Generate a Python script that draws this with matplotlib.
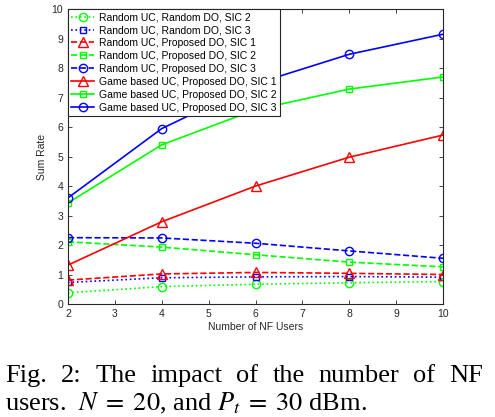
import matplotlib.pyplot as plt

# number of NF users
nf_users = [2, 4, 6, 8, 10]

# sum rate of each scheme
rand_rand_sic2 = [0.38, 0.59, 0.67, 0.72, 0.76]
rand_rand_sic3 = [0.73, 0.89, 0.92, 0.93, 0.91]
rand_prop_sic1 = [0.81, 1.02, 1.07, 1.04, 1.00]
rand_prop_sic2 = [2.11, 1.93, 1.67, 1.42, 1.26]
rand_prop_sic3 = [2.25, 2.24, 2.06, 1.80, 1.55]
game_prop_sic1 = [1.32, 2.79, 4.00, 4.98, 5.73]
game_prop_sic2 = [3.43, 5.40, 6.59, 7.29, 7.70]
game_prop_sic3 = [3.60, 5.95, 7.47, 8.47, 9.15]

labels = ['Random UC, Random DO, SIC 2',
          'Random UC, Random DO, SIC 3',
          'Random UC, Proposed DO, SIC 1',
          'Random UC, Proposed DO, SIC 2',
          'Random UC, Proposed DO, SIC 3',
          'Game based UC, Proposed DO, SIC 1',
          'Game based UC, Proposed DO, SIC 2',
          'Game based UC, Proposed DO, SIC 3']

plt.rcParams['font.family'] = ['Liberation Sans', 'DejaVu Sans']
plt.rcParams['mathtext.fontset'] = 'stix'

fig = plt.figure(figsize=(4.95, 4.17), dpi=100)
ax = fig.add_axes([0.1374, 0.271, 0.7576, 0.707])

lw = 1.2
ms = 6
ax.plot(nf_users, rand_rand_sic2, ':', color='#00ff00', marker='o', mfc='none', lw=lw, ms=ms, label=labels[0])
ax.plot(nf_users, rand_rand_sic3, ':', color='#0000ff', marker='s', mfc='none', lw=lw, ms=ms - 1, label=labels[1])
ax.plot(nf_users, rand_prop_sic1, '--', color='#ff0000', marker='^', mfc='none', lw=lw, ms=ms + 1, label=labels[2])
ax.plot(nf_users, rand_prop_sic2, '--', color='#00ff00', marker='s', mfc='none', lw=lw, ms=ms - 1, label=labels[3])
ax.plot(nf_users, rand_prop_sic3, '--', color='#0000ff', marker='o', mfc='none', lw=lw, ms=ms, label=labels[4])
ax.plot(nf_users, game_prop_sic1, '-', color='#ff0000', marker='^', mfc='none', lw=lw, ms=ms + 1, label=labels[5])
ax.plot(nf_users, game_prop_sic2, '-', color='#00ff00', marker='s', mfc='none', lw=lw, ms=ms - 1, label=labels[6])
ax.plot(nf_users, game_prop_sic3, '-', color='#0000ff', marker='o', mfc='none', lw=lw, ms=ms, label=labels[7])

ax.set_xlim(2, 10)
ax.set_ylim(0, 10)
ax.set_xticks(range(2, 11))
ax.set_yticks(range(0, 11))
ax.tick_params(direction='in', top=True, right=True, labelsize=7.5, colors='#262626', length=3, width=0.6)
for s in ax.spines.values():
    s.set_color('#262626')
    s.set_linewidth(0.8)

ax.set_xlabel('Number of NF Users', fontsize=7.5, color='#262626', labelpad=2)
ax.set_ylabel('Sum Rate', fontsize=7.5, color='#262626', labelpad=3)

leg = ax.legend(loc='upper left', bbox_to_anchor=(0, 1), borderaxespad=0, fontsize=7.5,
                fancybox=False, edgecolor='#262626', framealpha=1, handlelength=2.2,
                handletextpad=0.5, labelspacing=0.28, borderpad=0.3)
leg.get_frame().set_linewidth(0.8)

# caption below the chart, first line justified
cap_font = dict(family='Liberation Serif', fontsize=19, color='black')
words = ['Fig.', '2:', 'The', 'impact', 'of', 'the', 'number', 'of', 'NF']
x0, x1 = 5 / 495, 483 / 495
y_line1 = 1 - 382 / 417
texts = [fig.text(0, y_line1, w, va='baseline', ha='left', **cap_font) for w in words]
fig.canvas.draw()
r = fig.canvas.get_renderer()
widths = [t.get_window_extent(r).width / fig.bbox.width for t in texts]
gap = (x1 - x0 - sum(widths)) / (len(words) - 1)
xp = x0
for t, w in zip(texts, widths):
    t.set_x(xp)
    xp += w + gap

fig.text(x0, 1 - 410 / 417, r'users.  $N\;=\;20$, and $P_t\;=\;30$ dBm.',
         va='baseline', ha='left', **cap_font)

plt.savefig('out.png', dpi=100)
